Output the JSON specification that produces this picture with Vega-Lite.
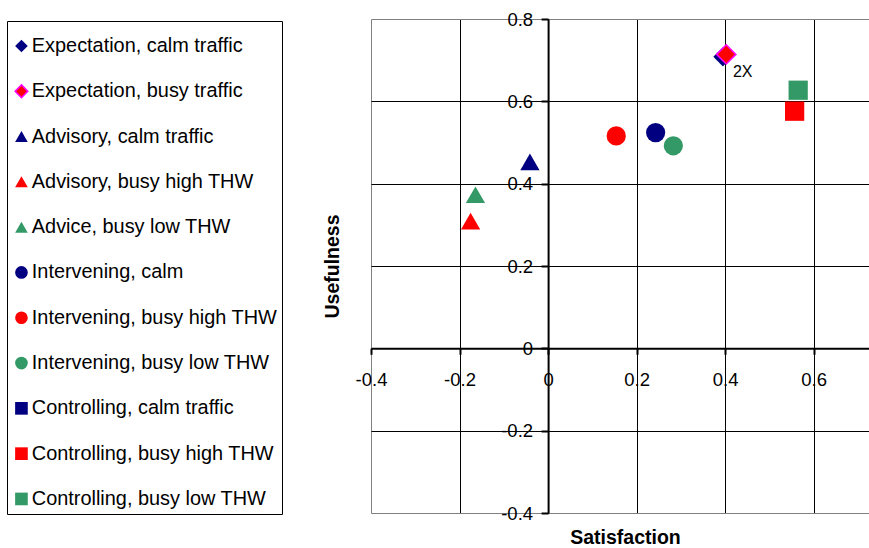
{
  "$schema": "https://vega.github.io/schema/vega-lite/v6.json",
  "width": 498,
  "height": 494,
  "autosize": {"type": "none"},
  "padding": {"left": 371, "top": 19, "right": 0, "bottom": 35},
  "background": "white",
  "config": {
    "view": {"stroke": null},
    "font": "Liberation Sans"
  },
  "datasets": {
    "points": [
      {"series": "Expectation, calm traffic", "satisfaction": 0.395, "usefulness": 0.708},
      {"series": "Expectation, busy traffic", "satisfaction": 0.4025, "usefulness": 0.714},
      {"series": "Advisory, calm traffic", "satisfaction": -0.041, "usefulness": 0.453},
      {"series": "Advisory, busy high THW", "satisfaction": -0.175, "usefulness": 0.309},
      {"series": "Advice, busy low THW", "satisfaction": -0.164, "usefulness": 0.373},
      {"series": "Intervening, calm", "satisfaction": 0.243, "usefulness": 0.524},
      {"series": "Intervening, busy high THW", "satisfaction": 0.154, "usefulness": 0.516},
      {"series": "Intervening, busy low THW", "satisfaction": 0.283, "usefulness": 0.492},
      {"series": "Controlling, busy high THW", "satisfaction": 0.557, "usefulness": 0.576},
      {"series": "Controlling, busy low THW", "satisfaction": 0.565, "usefulness": 0.627}
    ],
    "notes": [
      {"satisfaction": 0.395, "usefulness": 0.708, "label": "2X"}
    ]
  },
  "layer": [
    {
      "data": {"name": "points"},
      "mark": {"type": "point", "filled": true, "opacity": 1, "strokeWidth": 1.5, "size": 370},
      "encoding": {
        "x": {
          "field": "satisfaction",
          "type": "quantitative",
          "scale": {"domain": [-0.4, 0.725], "nice": false, "zero": false},
          "axis": {
            "values": [-0.4, -0.2, 0, 0.2, 0.4, 0.6],
            "labelExpr": "toString(datum.value)",
            "offset": -164.7,
            "domainColor": "black",
            "domainWidth": 2,
            "tickColor": "black",
            "tickWidth": 2,
            "tickSize": 6,
            "labelFontSize": 18.5,
            "labelColor": "black",
            "labelPadding": 16,
            "labelFlush": false,
            "labelOverlap": false,
            "grid": true,
            "gridColor": {"condition": {"test": "datum.value === -0.4", "value": "#808080"}, "value": "black"},
            "gridOpacity": 1,
            "gridWidth": 1,
            "title": "Satisfaction",
            "titleFontSize": 19.5,
            "titleFontWeight": "bold",
            "titleColor": "black",
            "titleX": 254,
            "titleY": 195,
            "titleAlign": "center",
            "titleBaseline": "alphabetic"
          }
        },
        "y": {
          "field": "usefulness",
          "type": "quantitative",
          "scale": {"domain": [-0.4, 0.8], "nice": false, "zero": false},
          "axis": {
            "values": [-0.4, -0.2, 0, 0.2, 0.4, 0.6, 0.8],
            "labelExpr": "toString(datum.value)",
            "offset": -177.1,
            "domainColor": "black",
            "domainWidth": 2,
            "tickColor": "black",
            "tickWidth": 2,
            "tickSize": 7,
            "labelFontSize": 18.5,
            "labelColor": "black",
            "labelPadding": 8.5,
            "labelFlush": false,
            "labelOverlap": false,
            "grid": true,
            "gridColor": {"condition": {"test": "datum.value === -0.4 || datum.value === 0.8", "value": "#808080"}, "value": "black"},
            "gridOpacity": 1,
            "gridWidth": 1,
            "title": "Usefulness",
            "titleFontSize": 19.5,
            "titleFontWeight": "bold",
            "titleColor": "black",
            "titleAngle": -90,
            "titleX": -209.3,
            "titleY": 247,
            "titleAlign": "center",
            "titleBaseline": "alphabetic"
          }
        },
        "fill": {
          "field": "series",
          "type": "nominal",
          "scale": {
            "domain": ["Expectation, calm traffic", "Expectation, busy traffic", "Advisory, calm traffic", "Advisory, busy high THW", "Advice, busy low THW", "Intervening, calm", "Intervening, busy high THW", "Intervening, busy low THW", "Controlling, calm traffic", "Controlling, busy high THW", "Controlling, busy low THW"],
            "range": ["#000080", "#FF0000", "#000080", "#FF0000", "#339966", "#000080", "#FF0000", "#339966", "#000080", "#FF0000", "#339966"]
          },
          "legend": {
            "orient": "none", "legendX": -364, "legendY": 2,
            "title": " ", "titleFontSize": 1, "titlePadding": 9.5,
            "padding": 4.5, "strokeColor": "black", "fillColor": "white",
            "labelFontSize": 19.9, "labelColor": "black", "labelFont": "Liberation Sans",
            "symbolSize": 160, "labelOffset": 0.4, "rowPadding": 24.3, "symbolStrokeWidth": 1.5,
            "labelLimit": 400
          }
        },
        "shape": {
          "field": "series",
          "type": "nominal",
          "scale": {
            "domain": ["Expectation, calm traffic", "Expectation, busy traffic", "Advisory, calm traffic", "Advisory, busy high THW", "Advice, busy low THW", "Intervening, calm", "Intervening, busy high THW", "Intervening, busy low THW", "Controlling, calm traffic", "Controlling, busy high THW", "Controlling, busy low THW"],
            "range": ["diamond", "diamond", "triangle-up", "triangle-up", "triangle-up", "circle", "circle", "circle", "square", "square", "square"]
          },
          "legend": {
            "orient": "none", "legendX": -364, "legendY": 2,
            "title": " ", "titleFontSize": 1, "titlePadding": 9.5,
            "padding": 4.5, "strokeColor": "black", "fillColor": "white",
            "labelFontSize": 19.9, "labelColor": "black", "labelFont": "Liberation Sans",
            "symbolSize": 160, "labelOffset": 0.4, "rowPadding": 24.3, "symbolStrokeWidth": 1.5,
            "labelLimit": 400
          }
        },
        "stroke": {
          "field": "series",
          "type": "nominal",
          "scale": {
            "domain": ["Expectation, calm traffic", "Expectation, busy traffic", "Advisory, calm traffic", "Advisory, busy high THW", "Advice, busy low THW", "Intervening, calm", "Intervening, busy high THW", "Intervening, busy low THW", "Controlling, calm traffic", "Controlling, busy high THW", "Controlling, busy low THW"],
            "range": ["transparent", "#FF00FF", "transparent", "transparent", "transparent", "transparent", "transparent", "transparent", "transparent", "transparent", "transparent"]
          },
          "legend": {
            "orient": "none", "legendX": -364, "legendY": 2,
            "title": " ", "titleFontSize": 1, "titlePadding": 9.5,
            "padding": 4.5, "strokeColor": "black", "fillColor": "white",
            "labelFontSize": 19.9, "labelColor": "black", "labelFont": "Liberation Sans",
            "symbolSize": 160, "labelOffset": 0.4, "rowPadding": 24.3, "symbolStrokeWidth": 1.5,
            "labelLimit": 400
          }
        }
      }
    },
    {
      "data": {"name": "notes"},
      "mark": {"type": "text", "align": "left", "baseline": "alphabetic", "dx": 10, "dy": 20, "fontSize": 16, "color": "black"},
      "encoding": {
        "x": {"field": "satisfaction", "type": "quantitative"},
        "y": {"field": "usefulness", "type": "quantitative"},
        "text": {"field": "label", "type": "nominal"}
      }
    }
  ]
}
